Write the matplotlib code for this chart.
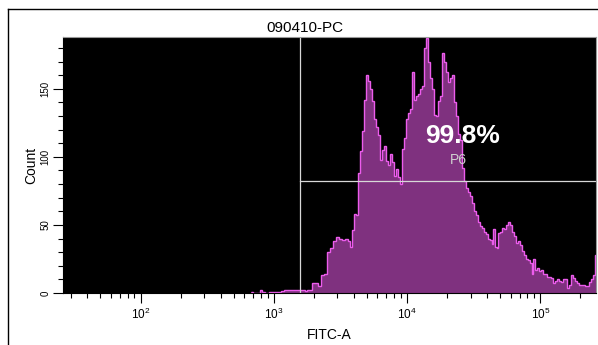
import numpy as np
import matplotlib
matplotlib.use("Agg")
import matplotlib.pyplot as plt
from matplotlib.lines import Line2D
from matplotlib.ticker import LogLocator, MultipleLocator, NullFormatter

# -----------------------------
# Fonts
# -----------------------------
plt.rcParams["font.family"] = ["Liberation Sans", "DejaVu Sans"]
plt.rcParams["mathtext.default"] = "regular"

# -----------------------------
# Histogram Data (FITC-A channel vs count)
# -----------------------------
fitc_values = [
    675, 699, 736, 788, 816, 860, 921, 987, 1057, 1133, 1194, 1279, 1371,
    1469, 1547, 1629, 1716, 1776, 1871,
    1937, 2040, 2148, 2262, 2383, 2509, 2643, 2784, 2932, 3088, 3252, 3425,
    3607, 3734,
    3866, 4002, 4143, 4289, 4440, 4596, 4758, 4925, 5099, 5278, 5464, 5656,
    5855, 6061, 6274, 6495, 6724, 6960, 7205, 7459, 7721, 7993, 8274, 8560,
    8860,
    9173, 9495, 9829, 10174, 10532, 10902, 11286, 11683, 12094, 12519, 12960,
    13416, 13887, 14376, 14882, 15405, 15947, 16508, 17089, 17690, 18313,
    18957, 19624, 20314, 21029,
    21769, 22535, 23328, 24148, 24998, 25880, 26789, 27732, 28708, 29718,
    30763, 31846, 32966, 34126, 35327, 36570, 37860, 39192, 40571, 41998,
    43476,
    44235, 45791, 47402, 48228, 49925, 51681, 53501, 55383, 57331, 59347,
    61436, 63597, 65834, 68150, 70548, 72930, 75509, 78177, 80927, 83770,
    86720,
    88230, 91340, 94540, 97860, 101300, 104860, 108550, 112370, 116310,
    120400, 124640, 129020, 133560, 138250, 143110, 148140, 153350, 158760,
    164340, 170120, 176100, 182290, 188700, 195340, 202200, 209310, 216670,
    224290, 232200, 240360, 248810, 257550, 262000,
]

counts = [
    0.5, 0, 0, 2, 1, 0, 1, 1, 1, 1.5, 2, 2, 2, 2, 2.5, 2, 1.5, 2.5, 2,
    7, 7, 5, 13, 14, 30, 33, 38, 41, 40, 39, 40, 38, 34,
    46, 58, 57, 88, 104, 119, 142, 160, 156, 150, 141, 128, 122, 116, 98, 105,
    108, 97, 94, 102, 96, 86, 91, 85, 80,
    106, 114, 128, 132, 135, 162, 142, 145, 146, 150, 152, 180, 187, 170, 158,
    150, 131, 130, 141, 145, 176, 170, 162, 155, 158,
    160, 140, 130, 117, 112, 92, 82, 77, 74, 71, 66, 60, 57, 52, 49, 48, 45,
    43, 40, 39, 36,
    47, 34, 33, 44, 45, 48, 47, 50, 52, 50, 45, 42, 37, 38, 35, 31, 28, 25,
    24, 22, 14,
    25, 17, 18, 16, 17, 14, 14, 12, 12, 11, 7, 9, 10, 9, 8, 10, 10, 4, 6, 13,
    11, 9, 7, 6, 6, 6, 5, 5, 8, 10, 13, 28, 20,
]

assert len(fitc_values) == len(counts)

# -----------------------------
# Gate (P6) and Labels
# -----------------------------
gate_x = 1575
gate_y = 82
gate_percent = "99.8%"
gate_name = "P6"
title_text = "090410-PC"
x_min, x_max = 26.2, 262143
y_max = 188

fill_color = "#7F317F"
edge_color = "#EC5CEC"
gate_color = "#D8D8D8"

# -----------------------------
# Figure
# -----------------------------
fig = plt.figure(figsize=(5.98, 3.45), dpi=100)

ax = fig.add_axes([63 / 598, 52 / 345, 533 / 598, 256 / 345])
ax.set_facecolor("black")

# each count spans from its channel value to the next one
ax.stairs(
    counts[:-1],
    fitc_values,
    fill=True,
    color=fill_color,
    linewidth=0
)

ax.stairs(
    counts[:-1],
    fitc_values,
    baseline=None,
    color=edge_color,
    linewidth=1.0
)

# gate lines
ax.axvline(gate_x, color=gate_color, linewidth=0.9)
ax.plot([gate_x, x_max], [gate_y, gate_y], color=gate_color, linewidth=0.9)

ax.text(
    26300, 115,
    gate_percent,
    color="white",
    fontsize=19,
    fontweight="bold",
    ha="center",
    va="center"
)

ax.text(
    24150, 98,
    gate_name,
    color="#D0D0D0",
    fontsize=10,
    ha="center",
    va="center"
)

# -----------------------------
# Axes
# -----------------------------
ax.set_xscale("log")
ax.set_xlim(x_min, x_max)
ax.set_ylim(0, y_max)

ax.xaxis.set_major_locator(LogLocator(base=10, numticks=10))
ax.xaxis.set_minor_locator(LogLocator(base=10, subs=np.arange(2, 10), numticks=20))
ax.xaxis.set_minor_formatter(NullFormatter())

ax.yaxis.set_major_locator(MultipleLocator(50))
ax.yaxis.set_minor_locator(MultipleLocator(10))

ax.tick_params(axis="both", which="major", length=7.5, width=0.8,
               color="black", labelsize=7)
ax.tick_params(axis="both", which="minor", length=3.6, width=0.8,
               color="black")
ax.tick_params(axis="x", which="major", labelsize=8.5, pad=2.5)
ax.tick_params(axis="y", which="major", labelrotation=90, pad=1.5)
for label in ax.get_yticklabels():
    label.set_verticalalignment("center")

ax.spines["top"].set_color("#999999")
ax.spines["right"].set_color("#999999")
ax.spines["left"].set_color("black")
ax.spines["bottom"].set_color("black")
for spine in ax.spines.values():
    spine.set_linewidth(0.8)

ax.set_xlabel("FITC-A", fontsize=10)
ax.xaxis.set_label_coords(0.5, -0.137)
ax.set_ylabel("Count", fontsize=10)
ax.yaxis.set_label_coords(-0.047, 0.5)

# -----------------------------
# Title & Outer Frame
# -----------------------------
fig.text(305 / 598, 1 - 28 / 345, title_text, fontsize=11,
         ha="center", va="center")

fig.add_artist(Line2D([8 / 598, 8 / 598], [0, 1 - 9 / 345],
                      color="black", linewidth=1.0))
fig.add_artist(Line2D([8 / 598, 1], [1 - 9 / 345, 1 - 9 / 345],
                      color="black", linewidth=1.0))

plt.savefig("out.png", dpi=100)
plt.close(fig)
